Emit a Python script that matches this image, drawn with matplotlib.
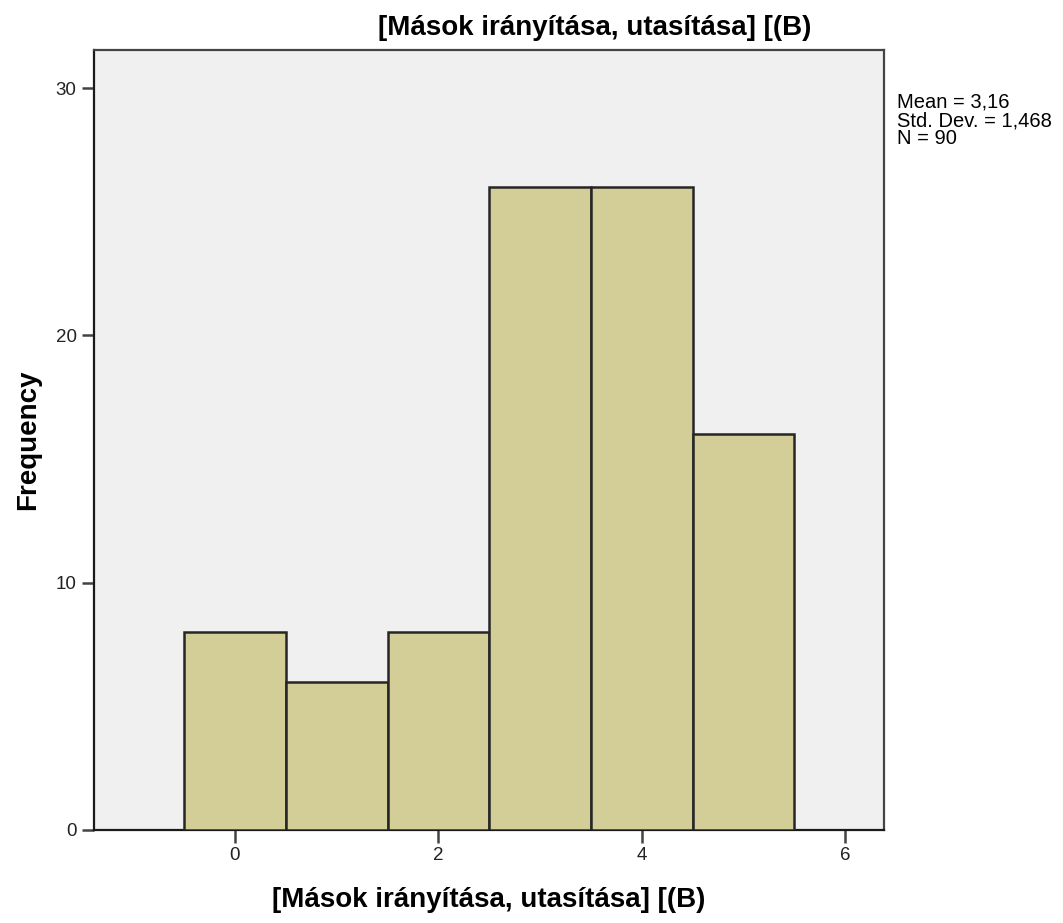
import matplotlib
matplotlib.use("Agg")
import matplotlib.pyplot as plt
import numpy as np

plt.rcParams['font.family'] = ['Liberation Sans', 'DejaVu Sans']

title = "[Mások irányítása, utasítása] [(B)"
values = [0, 1, 2, 3, 4, 5]
counts = [8, 6, 8, 26, 26, 16]
xticks = [0, 2, 4, 6]
yticks = [0, 10, 20, 30]
stats_text = "Mean = 3,16\nStd. Dev. = 1,468\nN = 90"

fig = plt.figure(figsize=(10.63, 9.23), dpi=100)
ax = fig.add_axes([94/1063, 1-830/923, (884-94)/1063, (830-50)/923])
ax.set_facecolor('#f0f0f0')

ax.bar(values, counts, width=1.0, color='#d3ce98', edgecolor='#262626', linewidth=1.8, zorder=3)

ax.set_xlim(-1.386, 6.38)
ax.set_ylim(0, 31.54)
ax.set_xticks(xticks)
ax.set_yticks(yticks)
ax.tick_params(axis='both', labelsize=13.5, length=9, width=1.8, color='#444444',
               labelcolor='#222222', pad=3.5)
for s in ['left', 'bottom']:
    ax.spines[s].set_linewidth(1.6)
    ax.spines[s].set_color('#1a1a1a')
for s in ['top', 'right']:
    ax.spines[s].set_linewidth(1.6)
    ax.spines[s].set_color('#444444')

fig.text(28/1063, 1-440/923, "Frequency", fontsize=20, fontweight='bold', rotation=90,
         ha='center', va='center')
fig.text(489/1063, 1-900/923, title, fontsize=20, fontweight='bold', ha='center', va='center')
fig.text(595/1063, 1-35/923, title, fontsize=20, fontweight='bold', ha='center', va='baseline')
fig.text(897/1063, 1-93/923, stats_text, fontsize=14.5, ha='left', va='top', linespacing=0.95)

fig.savefig("out.png", dpi=100)
